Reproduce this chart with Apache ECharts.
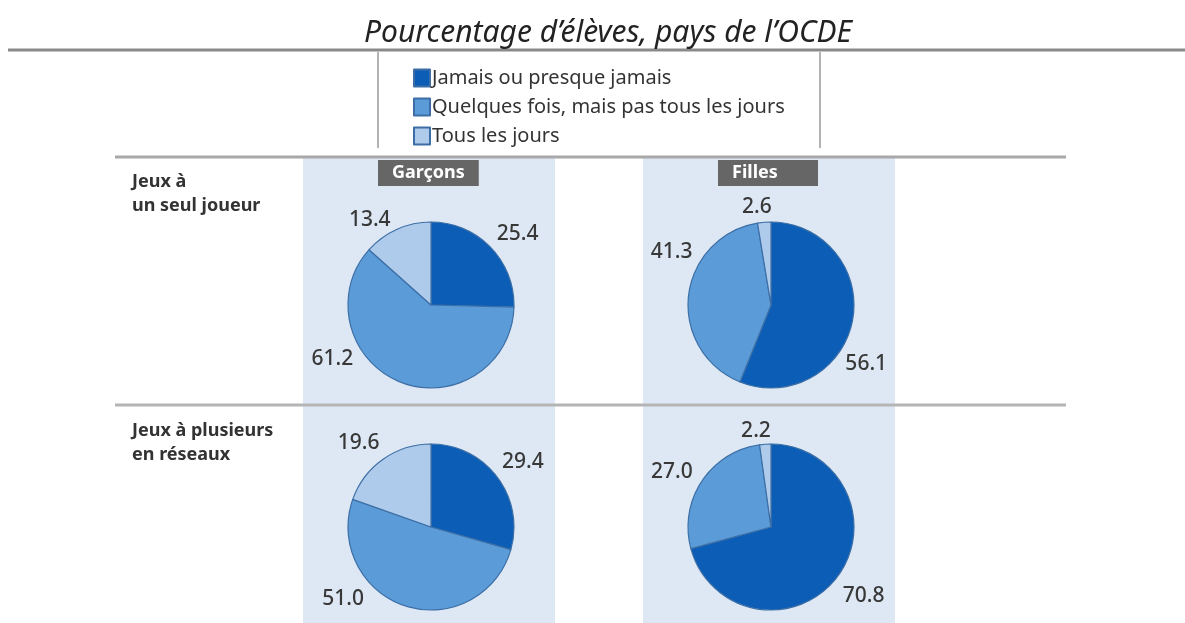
<!DOCTYPE html>
<html>
<head>
<meta charset="utf-8">
<script src="https://cdn.jsdelivr.net/npm/echarts@6/dist/echarts.min.js"></script>
<style>
  html, body { margin: 0; padding: 0; background: #fff; }
  #chart { width: 1185px; height: 623px; }
</style>
</head>
<body>
<div id="chart"></div>
<script>
// frequency categories (legend)
const categories = ['Jamais ou presque jamais', 'Quelques fois, mais pas tous les jours', 'Tous les jours'];
const genders = ['Garçons', 'Filles'];
const gameTypes = ['Jeux à\nun seul joueur', 'Jeux à plusieurs\nen réseaux'];

// percentages, same order as categories
const garconsSeul = [25.4, 61.2, 13.4];
const fillesSeul = [56.1, 41.3, 2.6];
const garconsReseau = [29.4, 51.0, 19.6];
const fillesReseau = [70.8, 27.0, 2.2];

const colors = ['#0b5db6', '#5b9bd8', '#aecbeb'];
const font = '"Noto Sans", "Open Sans", sans-serif';

// small nudges so the value labels sit where the original put them
const labelNudge = [
    [[-7, -9], [-36, -29], [5, -4]],
    [[-22, 42], [19, -43], [17, -9]],
    [[-9, -11], [-31, -13], [9, -11]],
    [[-8, 15], [5, -6], [15, -7]]
];

let chart = echarts.init(document.getElementById('chart'));

function pie(values, cx, cy, k) {
    return {
        type: 'pie',
        radius: 83,
        center: [cx, cy],
        startAngle: 90,
        clockwise: true,
        avoidLabelOverlap: false,
        silent: true,
        itemStyle: {borderColor: '#3d6fa6', borderWidth: 1.2},
        label: {
            show: true,
            position: 'outside',
            formatter: p => p.value.toFixed(1),
            fontFamily: font,
            fontSize: 21,
            fontWeight: 500,
            color: '#383838'
        },
        labelLine: {show: false, length: 6, length2: 4},
        data: values.map((v, i) => ({name: categories[i], value: v, label: {offset: labelNudge[k][i]}}))
    };
}

let panelX = [303, 643];
let pieX = [431, 771];
let pieY = [305, 527];

let option = {
    color: colors,
    animation: false,
    title: [
        {
            text: 'Pourcentage d’élèves, pays de l’OCDE',
            left: 359, top: 13,
            textStyle: {fontFamily: font, fontStyle: 'italic', fontWeight: 'normal', fontSize: 30, color: '#222'}
        },
        ...genders.map((g, i) => ({
            text: g,
            left: pieX[i] - 53, top: 160,
            backgroundColor: '#666',
            padding: [3, 14, 3, 14],
            textStyle: {fontFamily: font, fontWeight: 'bold', fontSize: 18, lineHeight: 20, color: '#fff', width: 72, align: 'center'}
        })),
        ...gameTypes.map((t, i) => ({
            text: t,
            left: 127, top: [165, 414][i],
            textStyle: {fontFamily: font, fontWeight: 'bold', fontSize: 18, lineHeight: 24, color: '#333'}
        }))
    ],
    legend: {
        orient: 'vertical',
        left: 408, top: 63,
        icon: 'rect',
        itemWidth: 16, itemHeight: 17,
        itemGap: 9,
        selectedMode: false,
        textStyle: {fontFamily: font, fontSize: 20, lineHeight: 20, color: '#333', padding: [0, 0, 0, -3]},
        data: categories
    },
    graphic: [
        ...panelX.map(x => ({type: 'rect', z: 0, silent: true, shape: {x: x, y: 158, width: 252, height: 465}, style: {fill: '#dde8f4'}})),
        {type: 'line', z: 1, shape: {x1: 8, y1: 50, x2: 1185, y2: 50}, style: {stroke: '#8a8a8a', lineWidth: 3}},
        {type: 'line', z: 1, shape: {x1: 378, y1: 52, x2: 378, y2: 148}, style: {stroke: '#999', lineWidth: 1.5}},
        {type: 'line', z: 1, shape: {x1: 820, y1: 52, x2: 820, y2: 148}, style: {stroke: '#999', lineWidth: 1.5}},
        {type: 'line', z: 1, shape: {x1: 115, y1: 157, x2: 1066, y2: 157}, style: {stroke: '#a8a8a8', lineWidth: 3}},
        {type: 'line', z: 1, shape: {x1: 115, y1: 405, x2: 1066, y2: 405}, style: {stroke: '#b5b5b5', lineWidth: 3}}
    ],
    series: [
        pie(garconsSeul, pieX[0], pieY[0], 0),
        pie(fillesSeul, pieX[1], pieY[0], 1),
        pie(garconsReseau, pieX[0], pieY[1], 2),
        pie(fillesReseau, pieX[1], pieY[1], 3)
    ]
};

chart.setOption(option);
</script>
</body>
</html>
